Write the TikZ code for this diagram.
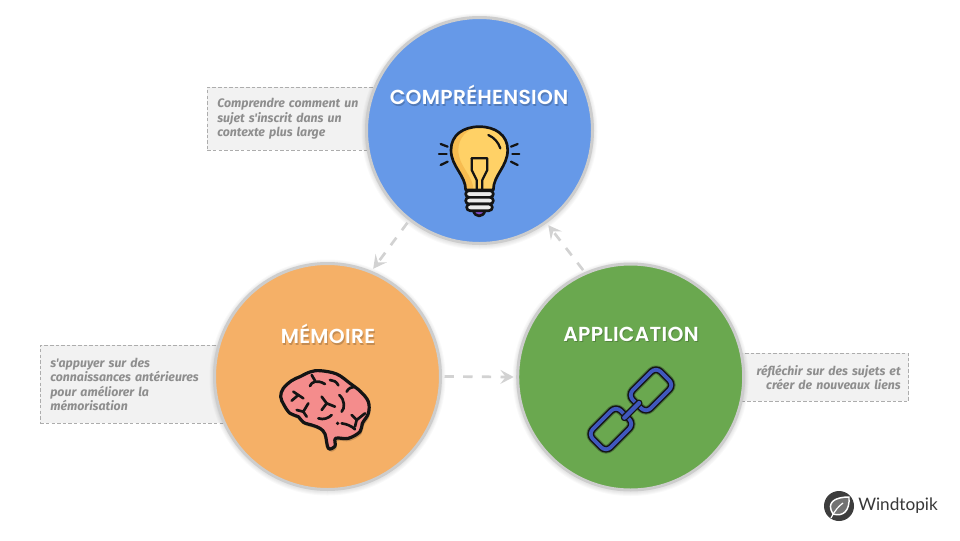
\documentclass[tikz,border=0pt]{standalone}
\usepackage{fontspec}
\usetikzlibrary{arrows.meta}
\setmainfont{Fira Sans}
\newfontfamily\titlefont[LetterSpace=1.5]{Poppins SemiBold}
\newfontfamily\notefont{Fira Sans}
\newfontfamily\logofont{Lato}
\definecolor{ringc}{HTML}{CDCDCD}
\definecolor{blueC}{HTML}{6699E8}
\definecolor{orangeC}{HTML}{F5B067}
\definecolor{greenC}{HTML}{6AA84F}
\definecolor{flowc}{HTML}{D2D2D2}
\definecolor{notetxt}{HTML}{8E8E8E}
\definecolor{ink}{HTML}{141414}
\definecolor{bulbY}{HTML}{FFD166}
\definecolor{bulbO}{HTML}{F7BC50}
\definecolor{brainC}{HTML}{F48C8C}
\definecolor{chainC}{HTML}{4058BE}
\tikzset{
  disc/.style={circle,draw=ringc,line width=2.25pt,minimum size=169.5pt,inner sep=0pt,outer sep=3pt},
  ttl/.style={font=\titlefont\fontsize{15.2pt}{18pt}\selectfont,text=white,inner sep=0pt},
  ttlshadow/.style={font=\titlefont\fontsize{15.2pt}{18pt}\selectfont,text=black,opacity=.2,inner sep=0pt},
  note/.style={draw=black!32,dash pattern=on 2.6pt off 1.6pt,line width=.5pt,fill=black!5,inner ysep=0pt,
    font=\notefont\bfseries\itshape\fontsize{9.25pt}{10.8pt}\selectfont,text=notetxt},
  flow/.style={draw=flowc,line width=2pt,dash pattern=on 7pt off 7pt,-{Stealth[length=10pt,width=10.5pt,inset=4pt]}},
  icon/.style={draw=ink,line width=2pt,line join=round,line cap=round},
  thin icon/.style={icon,line width=1.7pt},
  brain line/.style={icon,line width=2pt},
}
\begin{document}
\begin{tikzpicture}[x=.75pt,y=-.75pt]
\useasboundingbox (0,0) rectangle (960,540);
\fill[white] (0,0) rectangle (960,540);
% notes
\node[note,anchor=north west,minimum width=135pt,minimum height=47.25pt,text width=120pt,inner xsep=7.5pt,align=left] (n1) at (207,87) {Comprendre comment un\\sujet s'inscrit dans un\\contexte plus large};
\node[note,anchor=north west,minimum width=150pt,minimum height=58.5pt,text width=135pt,inner xsep=7.5pt,align=left] (n2) at (40,345) {s'appuyer sur des\\connaissances antérieures\\pour améliorer la\\mémorisation};
\node[note,anchor=north east,minimum width=138pt,minimum height=36pt,text width=126pt,inner xsep=6pt,align=right] (n3) at (909,353) {réfléchir sur des sujets et\\créer de nouveaux liens};
% soft shadows
\foreach \cx/\cy in {479.5/130.5,327.5/376.5,630.7/377}{
  \foreach \r in {115,116,117,118}{
    \fill[black,opacity=.025] (\cx,\cy+1) circle[radius=\r*.75pt];
  }
}
% discs
\node[disc,fill=blueC] (top) at (479.5,130.5) {};
\node[disc,fill=orangeC] (left) at (327.5,376.5) {};
\node[disc,fill=greenC] (right) at (630.7,377) {};
% connectors
\draw[flow] (top.232) -- (left.67);
\draw[flow] (right.114) -- (top.306);
\draw[flow] (left.east) -- (right.west);
% titles
\node[ttlshadow] (t1s) at (480,96.5) {COMPRÉHENSION};
\node[ttl] (t1) at (479,95) {COMPRÉHENSION};
\node[ttlshadow] (t2s) at (329,335.5) {MÉMOIRE};
\node[ttl] (t2) at (328,334) {MÉMOIRE};
\node[ttlshadow] (t3s) at (632,335.5) {APPLICATION};
\node[ttl] (t3) at (631,334) {APPLICATION};
% bulb
\begin{scope}[shift={(425,125)},x=.25pt,y=-.25pt]
  \fill[bulbY] (122,195) .. controls (122,150) and (78,125) .. (78,75) .. controls (78,30) and (115,5) .. (163,5) .. controls (211,5) and (248,30) .. (248,75) .. controls (248,125) and (205,150) .. (205,195) -- cycle;
  \fill[bulbO] (122,195) .. controls (122,150) and (78,125) .. (78,75) .. controls (78,30) and (115,5) .. (163,5) .. controls (125,10) and (100,40) .. (100,75) .. controls (100,125) and (145,150) .. (145,195) -- cycle;
  \draw[icon] (122,195) .. controls (122,150) and (78,125) .. (78,75) .. controls (78,30) and (115,5) .. (163,5) .. controls (211,5) and (248,30) .. (248,75) .. controls (248,125) and (205,150) .. (205,195) -- cycle;
  \draw[thin icon] (140,100) -- (187,100) -- (187,135) -- (172,165) -- (172,195);
  \draw[thin icon] (140,100) -- (140,135) -- (155,165) -- (155,195);
  \draw[thin icon] (190,30) .. controls (208,38) and (220,52) .. (226,70);
  \draw[icon,fill=violet!60!blue!70] (145,257) .. controls (150,278) and (175,278) .. (180,257);
  \draw[icon,fill=black!8,rounded corners=2.5pt] (122,197) rectangle (205,217);
  \draw[icon,fill=black!8,rounded corners=2.5pt] (122,217) rectangle (205,237);
  \draw[icon,fill=black!8,rounded corners=2.5pt] (125,237) rectangle (202,257);
  \foreach \ax/\ay/\bx/\by in {47/57/68/65,42/88/65/88,47/120/68/110,258/65/278/57,262/88/283/88,258/110/278/120}{
    \draw[thin icon] (\ax,\ay) -- (\bx,\by);
  }
\end{scope}
% brain
\begin{scope}[shift={(270,360)},x=.25pt,y=-.25pt]
  \fill[black,opacity=.18] plot[smooth cycle,tension=.6] coordinates {(154,40)(124,44)(94,58)(69,70)(44,93)(36,118)(46,143)(64,168)(89,178)(104,195)(132,204)(154,213)(169,230)(179,273)(199,266)(201,243)(239,243)(274,223)(281,198)(299,168)(299,133)(276,103)(244,78)(204,50)};
  \draw[icon,line width=2.4pt,fill=brainC] plot[smooth cycle,tension=.6] coordinates {(150,32)(120,36)(90,50)(65,62)(40,85)(32,110)(42,135)(60,160)(85,170)(100,187)(128,196)(150,205)(165,222)(175,265)(195,258)(197,235)(235,235)(270,215)(277,190)(295,160)(295,125)(272,95)(240,70)(200,42)};
  \draw[brain line] (120,78) .. controls (125,65) and (140,58) .. (165,72);
  \draw[brain line] (135,62) -- (125,45);
  \draw[brain line] (180,60) .. controls (190,60) and (200,65) .. (205,76);
  \draw[brain line] (230,95) .. controls (235,85) and (245,80) .. (255,80);
  \draw[brain line] (70,95) -- (85,105) -- (100,115);
  \draw[brain line] (85,105) -- (65,122);
  \draw[brain line] (80,150) -- (100,155) -- (115,130);
  \draw[brain line] (100,155) -- (110,170);
  \draw[brain line] (155,110) -- (170,130) -- (195,140);
  \draw[brain line] (170,130) -- (155,150);
  \draw[brain line] (208,105) .. controls (225,120) and (225,145) .. (215,155);
  \draw[brain line] (145,175) .. controls (160,180) and (175,175) .. (185,165);
  \draw[brain line] (245,165) -- (260,180) -- (285,160);
  \draw[brain line] (260,180) -- (255,200);
  \draw[brain line] (215,190) .. controls (230,192) and (245,198) .. (255,208);
  \fill[ink] (203,190) circle[radius=1.4pt];
\end{scope}
% chain
\begin{scope}[shift={(575,355)},x=.25pt,y=-.25pt]
  \foreach \w/\c/\o in {6.5pt/ink/.35,5pt/ink/1,2.8pt/chainC/1}{
    \draw[line width=\w,draw=\c,opacity=\o,rounded corners=5pt,line join=round] (243,36) -- (297,90) -- (213,174) -- (159,120) -- cycle;
    \draw[line width=\w,draw=\c,opacity=\o,rounded corners=5pt,line join=round] (123,153) -- (177,207) -- (93,291) -- (39,237) -- cycle;
  }
  \draw[line width=5.2pt,draw=ink,line cap=round] (148,188) -- (192,144);
  \draw[line width=3.2pt,draw=chainC,line cap=round] (148,188) -- (192,144);
\end{scope}
% logo
\fill[black!76] (839,506) circle[radius=15*.75pt];
\draw[white,line width=1.1pt,fill=black!55,line join=round] (833,514) .. controls (826,503) and (834,497) .. (849,497) .. controls (850,511) and (843,517) .. (833,514) -- cycle;
\draw[white,line width=.9pt] (831,518) .. controls (835,510) and (839,506) .. (843,503);
\node[font=\logofont\fontsize{12.9pt}{16pt}\selectfont,text=black!78,anchor=west,inner sep=0pt] (logo) at (858,506) {Windtopik};
\end{tikzpicture}
\end{document}
